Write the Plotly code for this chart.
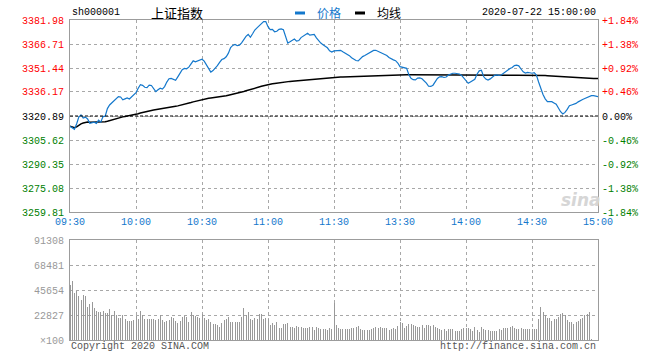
import plotly.graph_objects as go

# ---------------- data ----------------
prev_close = 3320.89
price_tick_labels = ["3259.81", "3275.08", "3290.35", "3305.62", "3320.89",
                     "3336.17", "3351.44", "3366.71", "3381.98"]
pct_tick_labels = ["-1.84%", "-1.38%", "-0.92%", "-0.46%", "0.00%",
                   "+0.46%", "+0.92%", "+1.38%", "+1.84%"]
vol_tick_values = [0, 22827, 45654, 68481, 91308]
vol_tick_labels = ["×100", "22827", "45654", "68481", "91308"]
x_tick_times = ["09:30", "10:00", "10:30", "11:00", "11:30", "13:30", "14:00", "14:30", "15:00"]

price_am = [
    3314.4, 3313.2, 3312.4, 3315.8, 3320.2, 3321.6, 3319.6, 3320.2, 3319.0, 3316.2,
    3316.8, 3317.0, 3316.2, 3318.2, 3317.0, 3320.5, 3320.8, 3325.6, 3327.9, 3329.3,
    3330.8, 3332.2, 3333.2, 3333.0, 3331.2, 3331.8, 3332.4, 3331.7, 3333.2, 3334.9,
    3335.8, 3338.6, 3340.8, 3340.4, 3339.2, 3339.0, 3340.5, 3340.3, 3338.6, 3336.4,
    3337.6, 3338.6, 3338.0, 3339.6, 3342.5, 3344.6, 3344.8, 3344.2, 3343.6, 3345.8,
    3348.6, 3350.4, 3351.2, 3350.9, 3352.0, 3353.8, 3356.0, 3355.4, 3356.0, 3356.8,
    3357.0, 3355.8, 3353.4, 3350.6, 3348.8, 3349.8, 3351.2, 3352.9, 3355.0, 3356.8,
    3357.4, 3358.6, 3360.9, 3364.4, 3365.8, 3366.4, 3365.7, 3365.9, 3367.4, 3369.7,
    3371.6, 3372.8, 3371.0, 3373.2, 3375.6, 3377.0, 3378.5, 3379.9, 3381.0, 3381.0,
    3377.7, 3375.9, 3376.0, 3374.5, 3374.8, 3376.0, 3376.3, 3375.8, 3371.5, 3367.3,
    3368.1, 3369.0, 3369.9, 3368.5, 3368.9, 3370.8, 3371.7, 3372.9, 3373.5, 3372.3,
    3372.4, 3372.8, 3370.6, 3368.6, 3367.3, 3366.3, 3365.5, 3364.3, 3362.4, 3361.6,
    3362.3,
]
price_pm = [
    3362.3, 3362.6, 3362.7, 3361.8, 3361.0, 3360.2, 3359.3, 3358.0, 3356.9,
    3356.2, 3356.0, 3357.4, 3358.7, 3359.4, 3360.3, 3361.3, 3362.0, 3362.6, 3362.7,
    3362.1, 3361.5, 3360.9, 3360.4, 3359.4, 3358.1, 3357.2, 3356.6, 3356.1, 3354.6,
    3352.3, 3351.8, 3351.5, 3351.2, 3347.3, 3344.9, 3344.0, 3343.9, 3345.0, 3345.1,
    3344.6, 3343.4, 3341.8, 3339.8, 3339.7, 3340.5, 3342.4, 3344.8, 3345.8, 3345.9,
    3345.4, 3345.7, 3347.0, 3347.8, 3348.1, 3348.1, 3348.0, 3347.6, 3346.7, 3345.1,
    3343.0, 3341.7, 3342.6, 3343.6, 3344.3, 3347.5, 3349.6, 3350.0, 3346.0, 3344.4,
    3343.8, 3344.5, 3345.9, 3346.8, 3347.0, 3346.7, 3347.0, 3348.1, 3349.2, 3350.2,
    3351.1, 3351.8, 3353.0, 3353.3, 3352.8, 3350.8, 3349.0, 3348.2, 3348.6, 3348.4,
    3348.1, 3348.5, 3347.0, 3342.5, 3338.0, 3334.6, 3331.8, 3330.0, 3330.1, 3330.0,
    3329.2, 3328.4, 3326.0, 3323.6, 3322.2, 3323.2, 3325.1, 3327.4, 3327.9, 3328.3,
    3328.9, 3329.9, 3330.8, 3331.4, 3332.0, 3332.7, 3333.4, 3333.8, 3333.8, 3333.6,
    3333.2,
]
volume_am = [
    50000, 53900, 43200, 45000, 40500, 36500, 41100, 40200, 30400, 32900,
    35000, 28900, 26800, 25900, 25900, 26800, 25000, 25000, 28300, 22800,
    26800, 22800, 19800, 19800, 22800, 19200, 17700, 17700, 17700, 18300,
    22200, 19200, 26500, 22800, 19200, 19200, 19200, 19200, 19200, 18300,
    18900, 22800, 18300, 16100, 17400, 18300, 21300, 19800, 17400, 15200,
    17400, 21300, 22200, 21300, 16700, 25300, 22800, 22200, 21300, 19800,
    23400, 19800, 18300, 19200, 16700, 14300, 14900, 13700, 12200, 15200,
    18300, 18900, 21300, 16700, 16100, 16700, 16100, 16700, 21300, 29500,
    22800, 25300, 19200, 18300, 19800, 19200, 23400, 23400, 19200, 19800,
    19200, 13700, 15200, 13700, 16100, 10700, 11300, 14300, 14900, 15500,
    12200, 12200, 11300, 13100, 12200, 12200, 11300, 11300, 11300, 12200,
    12200, 9100, 12200, 10700, 10000, 10000, 10000, 9100, 11300, 9700,
    34100,
]
volume_pm = [
    13700, 10650, 9740, 9740, 9740, 9740, 9740, 10650, 11260, 12170,
    12780, 9740, 9130, 9130, 9130, 9130, 10350, 10650, 11570, 10650,
    12170, 10960, 10960, 10650, 9130, 10040, 10650, 9740, 12780, 16740,
    15220, 10650, 12780, 14610, 14610, 14000, 13090, 11570, 12170, 13700,
    11260, 14000, 13700, 13090, 13700, 12170, 10650, 9740, 9130, 9740,
    8520, 10350, 9740, 9740, 8520, 8220, 8220, 9740, 10650, 10650,
    10650, 9740, 8520, 11570, 9130, 7610, 12170, 9740, 9130, 9130,
    8520, 7910, 8220, 8520, 9740, 9130, 10960, 10650, 10960, 12170,
    12780, 10960, 10350, 10350, 10960, 9740, 10350, 9740, 9740, 9740,
    9740, 10350, 19480, 30440, 25870, 22830, 20390, 20390, 17350, 19170,
    19170, 20700, 23740, 24960, 22830, 18260, 16740, 16740, 14610, 16740,
    17650, 18870, 19780, 22520, 23740, 25570, 600, 0, 0, 0,
]


def minute_range(h0, m0, h1, m1):
    out, t = [], h0 * 60 + m0
    while t <= h1 * 60 + m1:
        out.append(f"{t // 60:02d}:{t % 60:02d}")
        t += 1
    return out


times = minute_range(9, 30, 11, 30) + minute_range(13, 1, 15, 0)
price = price_am + price_pm
volume = volume_am + volume_pm

# average price line (cumulative volume-weighted)
avg, sp, sv = [], 0.0, 0.0
for p, v in zip(price, volume):
    sp += p * v
    sv += v
    avg.append(sp / sv if sv else p)

pct = [(p / prev_close - 1) * 100 for p in price]

# ---------------- styling ----------------
FW, FH = 660, 360


def px(X):
    return X / FW


def py(Y):
    return 1 - Y / FH


BLUE = "#1478cc"
RED, GREEN, BLACK = "#ff0000", "#008000", "#000000"
GRID = "#a8a8a8"
FRAME = "#9c9c9c"
MONO = "Liberation Mono, DejaVu Sans Mono, monospace"
CJK = "Noto Sans CJK SC, sans-serif"

price_vals = [float(s) for s in price_tick_labels]
lo, hi = price_vals[0], price_vals[-1]
pct_vals = [(v / prev_close - 1) * 100 for v in price_vals]


def tone(v):
    if abs(v - prev_close) < 1e-6:
        return BLACK
    return RED if v > prev_close else GREEN


left_text = [f'<span style="color:{tone(v)}">{s}</span>' for v, s in zip(price_vals, price_tick_labels)]
right_text = [f'<span style="color:{tone(v)}">{s}</span>' for v, s in zip(price_vals, pct_tick_labels)]

x_dom = [px(70), px(598)]
main_dom = [py(212), py(20)]
vol_dom = [py(340), py(240)]

fig = go.Figure()
fig.add_trace(go.Scatter(x=times, y=avg, mode="lines", line=dict(color=BLACK, width=1.5),
                         xaxis="x", yaxis="y", hoverinfo="skip"))
fig.add_trace(go.Scatter(x=times, y=price, mode="lines", line=dict(color=BLUE, width=1.2),
                         xaxis="x", yaxis="y"))
fig.add_trace(go.Scatter(x=times, y=pct, mode="lines", line=dict(color="rgba(0,0,0,0)", width=0),
                         xaxis="x", yaxis="y2", hoverinfo="skip"))
fig.add_trace(go.Bar(x=times, y=volume, xaxis="x2", yaxis="y3", width=0.45,
                     marker=dict(color="#999999", line=dict(width=0))))

common_x = dict(type="category", categoryorder="array", categoryarray=times,
                range=[0, len(times) - 1], tickvals=x_tick_times, ticktext=x_tick_times,
                showgrid=True, gridcolor=GRID, griddash="dot", gridwidth=1,
                showline=True, mirror=True, linecolor=FRAME, linewidth=1,
                ticks="", zeroline=False, domain=x_dom, automargin=False)

fig.update_layout(
    width=FW, height=FH, autosize=False,
    margin=dict(l=0, r=0, t=0, b=0, pad=0, autoexpand=False),
    paper_bgcolor="white", plot_bgcolor="white",
    showlegend=False, bargap=0, hovermode=False,
    xaxis=dict(common_x, anchor="y", tickfont=dict(family=MONO, size=10, color=BLUE)),
    xaxis2=dict(common_x, anchor="y3", matches="x", showticklabels=False),
    yaxis=dict(domain=main_dom, anchor="x", range=[lo, hi], tickvals=price_vals, ticktext=left_text,
               tickfont=dict(family=MONO, size=10), showgrid=True, gridcolor=GRID, griddash="dot",
               showline=True, mirror=True, linecolor=FRAME, linewidth=1, ticks="outside", ticklen=3,
               tickcolor="rgba(0,0,0,0)", zeroline=False, automargin=False),
    yaxis2=dict(overlaying="y", anchor="x", side="right", range=[pct_vals[0], pct_vals[-1]],
                tickvals=pct_vals, ticktext=right_text, tickfont=dict(family=MONO, size=10),
                showgrid=False, showline=False, ticks="outside", ticklen=1,
                tickcolor="rgba(0,0,0,0)", zeroline=False, automargin=False),
    yaxis3=dict(domain=vol_dom, anchor="x2", range=[0, vol_tick_values[-1]], tickvals=vol_tick_values,
                ticktext=vol_tick_labels, tickfont=dict(family=MONO, size=10, color="#999999"),
                showgrid=True, gridcolor=GRID, griddash="dot", showline=True, mirror=True,
                linecolor=FRAME, linewidth=1, ticks="outside", ticklen=3, tickcolor="rgba(0,0,0,0)",
                zeroline=False, automargin=False),
)

# previous close dashed line
fig.add_shape(type="line", xref="x domain", x0=0, x1=1, yref="y", y0=prev_close, y1=prev_close,
              line=dict(color=BLACK, width=1, dash="3px,2px"))

# header
hy = py(13)
fig.add_annotation(text="sh000001", xref="paper", yref="paper", x=px(70), y=hy, xanchor="left",
                   yanchor="middle", showarrow=False, font=dict(family=MONO, size=10, color=BLACK))
fig.add_annotation(text="上证指数", xref="paper", yref="paper", x=px(177), y=hy, xanchor="center",
                   yanchor="middle", showarrow=False, font=dict(family=CJK, size=13, color=BLACK))
fig.add_shape(type="rect", xref="paper", yref="paper", x0=px(295), x1=px(305),
              y0=py(14.5), y1=py(11.5), fillcolor=BLUE, line=dict(width=0))
fig.add_annotation(text="价格", xref="paper", yref="paper", x=px(315), y=hy, xanchor="left",
                   yanchor="middle", showarrow=False, font=dict(family=CJK, size=12, color=BLUE))
fig.add_shape(type="rect", xref="paper", yref="paper", x0=px(355), x1=px(365),
              y0=py(14.5), y1=py(11.5), fillcolor=BLACK, line=dict(width=0))
fig.add_annotation(text="均线", xref="paper", yref="paper", x=px(375), y=hy, xanchor="left",
                   yanchor="middle", showarrow=False, font=dict(family=CJK, size=12, color=BLACK))
fig.add_annotation(text="2020-07-22 15:00:00", xref="paper", yref="paper", x=px(598), y=hy,
                   xanchor="right", yanchor="middle", showarrow=False,
                   font=dict(family=MONO, size=10, color=BLACK))

# footer
fy = py(346)
fig.add_annotation(text="Copyright 2020 SINA.COM", xref="paper", yref="paper", x=px(69), y=fy,
                   xanchor="left", yanchor="middle", showarrow=False,
                   font=dict(family=MONO, size=10, color="#555555"))
fig.add_annotation(text="http://finance.sina.com.cn", xref="paper", yref="paper", x=px(598), y=fy,
                   xanchor="right", yanchor="middle", showarrow=False,
                   font=dict(family=MONO, size=10, color="#555555"))

# watermark
fig.add_annotation(text="<b><i>sina</i></b>", xref="paper", yref="paper", x=px(581), y=py(200),
                   xanchor="center", yanchor="middle", showarrow=False,
                   font=dict(family="DejaVu Sans", size=17, color="#d6d6d6"))

# remove the page's default 8px body margin so the 660x360 figure fills the window
fig.write_html("out.html", config={"displayModeBar": False, "staticPlot": True},
               post_script="document.body.style.margin='0';document.body.style.overflow='hidden';")
